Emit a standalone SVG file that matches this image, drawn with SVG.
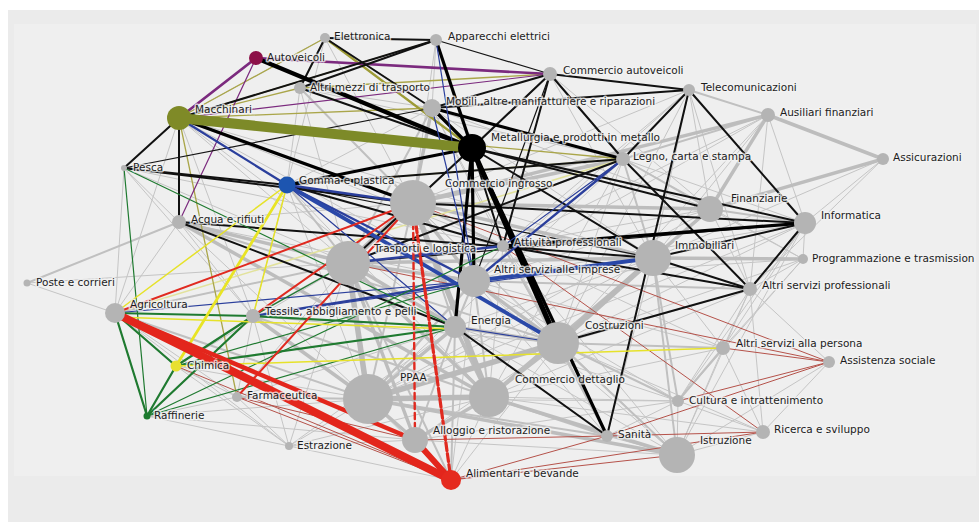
<svg xmlns="http://www.w3.org/2000/svg" width="979" height="522" viewBox="0 0 979 522">
<style>
.e path{fill:none;stroke-linecap:round}
.g1{stroke:#c5c5c5;stroke-width:1}
.g2{stroke:#c0c0c0;stroke-width:2}
.g3{stroke:#bdbdbd;stroke-width:3.5}
.g5{stroke:#bababa;stroke-width:5.5}
.k1{stroke:#151515;stroke-width:1.2}
.k2{stroke:#111;stroke-width:2}
.k3{stroke:#000;stroke-width:3.2}
.k4{stroke:#000;stroke-width:4.2}
.k5{stroke:#000;stroke-width:5.2}
.b1{stroke:#2b3f9c;stroke-width:1.2}
.b2{stroke:#2b3f9c;stroke-width:2.3}
.b3{stroke:#2a48a8;stroke-width:3.8}
.v1{stroke:#7b2a7e;stroke-width:1.2}
.v2{stroke:#7b2a7e;stroke-width:2.6}
.o1{stroke:#aaa64a;stroke-width:1.3}
.o2{stroke:#9d9b35;stroke-width:2.2}
.o10{stroke:#7d8a28;stroke-width:10}
.y1{stroke:#e6e22a;stroke-width:1.5}
.y2{stroke:#e8e425;stroke-width:2.8}
.yp{stroke:#e2e29c;stroke-width:1.6}
.n1{stroke:#1f7a30;stroke-width:1.2}
.n2{stroke:#1f7a30;stroke-width:2.2}
.r1{stroke:#b5524a;stroke-width:1}
.r2{stroke:#e02a20;stroke-width:2}
.r4{stroke:#e3261c;stroke-width:4.5}
.r6{stroke:#e3261c;stroke-width:6}
.r8{stroke:#e3261c;stroke-width:8}
.rd{stroke:#e02a20;stroke-width:3.2;stroke-dasharray:8 3}
.rd2{stroke:#e02a20;stroke-width:2.4;stroke-dasharray:6 4}
.nd{fill:#b4b4b4}
.lb{font-family:"DejaVu Sans",Verdana,sans-serif;font-size:10.5px;fill:#1c1c1c;stroke:#f3f3f3;stroke-width:3;stroke-opacity:.75;paint-order:stroke;stroke-linejoin:round}
</style>
<rect width="979" height="522" fill="#fff"/>
<rect x="8" y="10" width="971" height="512" fill="#ebebeb"/>
<rect x="14" y="24" width="962" height="452" fill="#efefef"/>
<g id="connectors" class="e">
<path class="g1" d="M325 38 179 118"/><path class="g1" d="M325 38 287 185"/><path class="g1" d="M325 38 413 203"/>
<path class="g1" d="M436 40 432 108"/><path class="g1" d="M436 40 413 203"/><path class="g1" d="M300 88 432 108"/>
<path class="g1" d="M300 88 287 185"/><path class="g1" d="M300 88 348 263"/><path class="g1" d="M300 88 623 159"/>
<path class="g1" d="M550 74 348 263"/><path class="g1" d="M550 74 710 209"/><path class="g1" d="M550 74 653 258"/>
<path class="g1" d="M689 90 710 209"/><path class="g1" d="M689 90 653 258"/><path class="g1" d="M689 90 413 203"/>
<path class="g1" d="M689 90 503 246"/><path class="g1" d="M689 90 474 281"/><path class="g1" d="M689 90 750 289"/>
<path class="g1" d="M689 90 558 343"/><path class="g1" d="M432 108 287 185"/><path class="g1" d="M432 108 503 246"/>
<path class="g1" d="M432 108 653 258"/><path class="g1" d="M432 108 558 343"/><path class="g1" d="M432 108 710 209"/>
<path class="g1" d="M179 118 115 313"/><path class="g1" d="M179 118 348 263"/><path class="g1" d="M179 118 253 316"/>
<path class="g1" d="M179 118 455 327"/><path class="g1" d="M179 118 503 246"/><path class="g1" d="M179 118 474 281"/>
<path class="g1" d="M179 118 653 258"/><path class="g1" d="M768 115 653 258"/><path class="g1" d="M768 115 750 289"/>
<path class="g1" d="M768 115 503 246"/><path class="g1" d="M768 115 558 343"/><path class="g1" d="M768 115 805 223"/>
<path class="g1" d="M768 115 474 281"/><path class="g1" d="M883 159 653 258"/><path class="g1" d="M883 159 805 223"/>
<path class="g1" d="M883 159 750 289"/><path class="g1" d="M623 159 805 223"/><path class="g1" d="M623 159 489 397"/>
<path class="g1" d="M623 159 368 399"/><path class="g1" d="M623 159 503 246"/><path class="g1" d="M623 159 558 343"/>
<path class="g1" d="M623 159 803 259"/><path class="g1" d="M124 168 115 313"/><path class="g1" d="M124 168 179 222"/>
<path class="g1" d="M124 168 348 263"/><path class="g1" d="M124 168 253 316"/><path class="g1" d="M124 168 503 246"/>
<path class="g1" d="M287 185 253 316"/><path class="g1" d="M287 185 455 327"/><path class="g1" d="M287 185 489 397"/>
<path class="g1" d="M287 185 368 399"/><path class="g1" d="M413 203 179 222"/><path class="g1" d="M413 203 558 343"/>
<path class="g1" d="M413 203 723 348"/><path class="g1" d="M413 203 677 455"/><path class="g1" d="M710 209 503 246"/>
<path class="g1" d="M710 209 474 281"/><path class="g1" d="M710 209 750 289"/><path class="g1" d="M710 209 489 397"/>
<path class="g1" d="M710 209 368 399"/><path class="g1" d="M710 209 803 259"/><path class="g1" d="M805 223 803 259"/>
<path class="g1" d="M805 223 474 281"/><path class="g1" d="M805 223 558 343"/><path class="g1" d="M805 223 368 399"/>
<path class="g1" d="M805 223 678 401"/><path class="g1" d="M805 223 723 348"/><path class="g1" d="M805 223 677 455"/>
<path class="g1" d="M179 222 253 316"/><path class="g1" d="M179 222 115 313"/><path class="g1" d="M179 222 368 399"/>
<path class="g1" d="M179 222 474 281"/><path class="g1" d="M179 222 503 246"/><path class="g1" d="M503 246 474 281"/>
<path class="g1" d="M503 246 368 399"/><path class="g1" d="M503 246 489 397"/><path class="g1" d="M503 246 677 455"/>
<path class="g1" d="M503 246 607 436"/><path class="g1" d="M503 246 653 258"/><path class="g1" d="M653 258 368 399"/>
<path class="g1" d="M653 258 723 348"/><path class="g1" d="M653 258 607 436"/><path class="g1" d="M653 258 455 327"/>
<path class="g1" d="M348 263 289 446"/><path class="g1" d="M348 263 237 397"/><path class="g1" d="M348 263 176 366"/>
<path class="g1" d="M348 263 27 283"/><path class="g1" d="M803 259 750 289"/><path class="g1" d="M803 259 678 401"/>
<path class="g1" d="M803 259 474 281"/><path class="g1" d="M803 259 723 348"/><path class="g1" d="M803 259 558 343"/>
<path class="g1" d="M474 281 723 348"/><path class="g1" d="M474 281 678 401"/><path class="g1" d="M474 281 607 436"/>
<path class="g1" d="M474 281 677 455"/><path class="g1" d="M474 281 451 480"/><path class="g1" d="M750 289 723 348"/>
<path class="g1" d="M750 289 678 401"/><path class="g1" d="M750 289 829 362"/><path class="g1" d="M750 289 763 432"/>
<path class="g1" d="M750 289 677 455"/><path class="g1" d="M750 289 489 397"/><path class="g1" d="M750 289 368 399"/>
<path class="g1" d="M115 313 289 446"/><path class="g1" d="M115 313 237 397"/><path class="g1" d="M115 313 27 283"/>
<path class="g1" d="M253 316 237 397"/><path class="g1" d="M253 316 289 446"/><path class="g1" d="M253 316 558 343"/>
<path class="g1" d="M455 327 289 446"/><path class="g1" d="M455 327 677 455"/><path class="g1" d="M455 327 678 401"/>
<path class="g1" d="M455 327 237 397"/><path class="g1" d="M558 343 451 480"/><path class="g1" d="M558 343 415 440"/>
<path class="g1" d="M558 343 763 432"/><path class="g1" d="M723 348 763 432"/><path class="g1" d="M723 348 677 455"/>
<path class="g1" d="M723 348 489 397"/><path class="g1" d="M829 362 677 455"/><path class="g1" d="M829 362 763 432"/>
<path class="g1" d="M176 366 237 397"/><path class="g1" d="M176 366 289 446"/><path class="g1" d="M176 366 368 399"/>
<path class="g1" d="M368 399 289 446"/><path class="g1" d="M368 399 451 480"/><path class="g1" d="M368 399 678 401"/>
<path class="g1" d="M489 397 451 480"/><path class="g1" d="M489 397 678 401"/><path class="g1" d="M489 397 763 432"/>
<path class="g1" d="M237 397 289 446"/><path class="g1" d="M237 397 147 416"/><path class="g1" d="M678 401 763 432"/>
<path class="g1" d="M678 401 677 455"/><path class="g1" d="M678 401 607 436"/><path class="g1" d="M147 416 289 446"/>
<path class="g1" d="M147 416 415 440"/><path class="g1" d="M147 416 368 399"/><path class="g1" d="M415 440 677 455"/>
<path class="g1" d="M763 432 677 455"/><path class="g1" d="M607 436 677 455"/><path class="g1" d="M289 446 451 480"/>
<path class="g1" d="M289 446 415 440"/><path class="g1" d="M289 446 489 397"/><path class="g1" d="M415 440 678 401"/>
<path class="g2" d="M768 115 623 159"/><path class="g2" d="M689 90 768 115"/><path class="g2" d="M27 283 179 222"/>
<path class="g2" d="M115 313 348 263"/><path class="g2" d="M413 203 455 327"/><path class="g2" d="M805 223 710 209"/>
<path class="g2" d="M710 209 623 159"/><path class="g2" d="M723 348 558 343"/><path class="g2" d="M678 401 558 343"/>
<path class="g2" d="M678 401 653 258"/><path class="g2" d="M677 455 558 343"/><path class="g2" d="M607 436 558 343"/>
<path class="g2" d="M607 436 368 399"/><path class="g2" d="M415 440 455 327"/><path class="g2" d="M455 327 451 480"/>
<path class="g2" d="M253 316 348 263"/><path class="g2" d="M253 316 489 397"/><path class="g2" d="M287 185 348 263"/>
<path class="g2" d="M413 203 368 399"/><path class="g2" d="M503 246 413 203"/><path class="g2" d="M503 246 558 343"/>
<path class="g2" d="M474 281 489 397"/><path class="g2" d="M474 281 368 399"/><path class="g2" d="M710 209 558 343"/>
<path class="g2" d="M474 281 455 327"/><path class="g2" d="M678 401 723 348"/><path class="g2" d="M489 397 607 436"/>
<path class="g2" d="M348 263 451 480"/><path class="g2" d="M653 258 677 455"/><path class="g2" d="M474 281 750 289"/>
<path class="g2" d="M432 108 348 263"/><path class="g2" d="M623 159 653 258"/><path class="g2" d="M623 159 348 263"/>
<path class="g2" d="M550 74 413 203"/><path class="g2" d="M300 88 413 203"/><path class="g2" d="M237 397 368 399"/>
<path class="g2" d="M115 313 368 399"/><path class="g2" d="M179 222 558 343"/>
<path class="g3" d="M413 203 653 258"/><path class="g3" d="M348 263 455 327"/><path class="g3" d="M368 399 455 327"/>
<path class="g3" d="M368 399 415 440"/><path class="g3" d="M558 343 455 327"/><path class="g3" d="M558 343 489 397"/>
<path class="g3" d="M653 258 710 209"/><path class="g3" d="M179 222 489 397"/><path class="g3" d="M768 115 883 159"/>
<path class="g3" d="M768 115 710 209"/><path class="g3" d="M768 115 413 203"/><path class="g3" d="M883 159 710 209"/>
<path class="g3" d="M413 203 474 281"/><path class="g3" d="M348 263 474 281"/><path class="g3" d="M489 397 415 440"/>
<path class="g3" d="M677 455 368 399"/><path class="g3" d="M348 263 489 397"/><path class="g3" d="M474 281 558 343"/>
<path class="g3" d="M653 258 474 281"/><path class="g3" d="M432 108 413 203"/><path class="g3" d="M623 159 413 203"/>
<path class="g3" d="M803 259 653 258"/><path class="g3" d="M253 316 368 399"/><path class="g3" d="M653 258 348 263"/>
<path class="g3" d="M677 455 489 397"/><path class="g3" d="M179 222 348 263"/><path class="g3" d="M710 209 413 203"/>
<path class="g3" d="M489 397 653 258"/><path class="g3" d="M348 263 415 440"/><path class="g3" d="M455 327 489 397"/>
<path class="g5" d="M413 203 348 263"/><path class="g5" d="M348 263 368 399"/><path class="g5" d="M368 399 489 397"/>
<path class="g5" d="M413 203 489 397"/><path class="g5" d="M653 258 558 343"/><path class="g5" d="M368 399 558 343"/>
<path class="r1" d="M176 366 451 480"/><path class="r1" d="M237 397 451 480"/><path class="r1" d="M237 397 415 440"/>
<path class="r1" d="M607 436 829 362"/><path class="r1" d="M607 436 763 432"/><path class="r1" d="M607 436 415 440"/>
<path class="r1" d="M451 480 607 436"/><path class="r1" d="M451 480 677 455"/><path class="r1" d="M503 246 763 432"/>
<path class="r1" d="M413 203 829 362"/><path class="r1" d="M723 348 829 362"/><path class="r1" d="M678 401 829 362"/>
<path class="r1" d="M348 263 829 362"/><path class="r1" d="M451 480 763 432"/>
<path class="yp" d="M115 313 623 159"/><path class="yp" d="M287 185 623 159"/>
<path class="o1" d="M179 118 436 40"/><path class="o1" d="M300 88 550 74"/><path class="o1" d="M179 118 432 108"/>
<path class="o1" d="M179 118 623 159"/><path class="o1" d="M179 118 300 88"/><path class="o1" d="M179 118 325 38"/>
<path class="o1" d="M179 118 237 397"/><path class="o2" d="M325 38 472 148"/>
<path class="v1" d="M179 118 550 74"/><path class="v1" d="M256 58 179 222"/>
<path class="v2" d="M256 58 550 74"/><path class="v2" d="M256 58 179 118"/>
<path class="k1" d="M287 185 653 258"/><path class="k1" d="M348 263 805 223"/><path class="k1" d="M124 168 432 108"/>
<path class="k1" d="M436 40 550 74"/><path class="k1" d="M550 74 474 281"/>
<path class="k2" d="M436 40 325 38"/><path class="k2" d="M325 38 300 88"/><path class="k2" d="M436 40 300 88"/>
<path class="k2" d="M436 40 179 118"/><path class="k2" d="M550 74 472 148"/><path class="k2" d="M550 74 623 159"/>
<path class="k2" d="M550 74 689 90"/><path class="k2" d="M550 74 432 108"/><path class="k2" d="M689 90 432 108"/>
<path class="k2" d="M689 90 623 159"/><path class="k2" d="M689 90 805 223"/><path class="k2" d="M689 90 607 436"/>
<path class="k2" d="M623 159 750 289"/><path class="k2" d="M805 223 653 258"/><path class="k2" d="M805 223 750 289"/>
<path class="k2" d="M750 289 653 258"/><path class="k2" d="M750 289 558 343"/><path class="k2" d="M750 289 503 246"/>
<path class="k2" d="M179 222 455 327"/><path class="k2" d="M179 222 653 258"/><path class="k2" d="M124 168 413 203"/>
<path class="k2" d="M124 168 287 185"/><path class="k2" d="M179 118 124 168"/><path class="k2" d="M179 118 179 222"/>
<path class="k2" d="M455 327 607 436"/><path class="k2" d="M472 148 653 258"/><path class="k2" d="M472 148 348 263"/>
<path class="k2" d="M472 148 503 246"/><path class="k2" d="M300 88 472 148"/><path class="k2" d="M325 38 432 108"/>
<path class="k2" d="M623 159 287 185"/><path class="k2" d="M623 159 348 263"/><path class="k2" d="M472 148 710 209"/>
<path class="k2" d="M472 148 805 223"/><path class="k2" d="M550 74 503 246"/><path class="k2" d="M413 203 805 223"/>
<path class="k2" d="M287 185 503 246"/>
<path class="k3" d="M436 40 472 148"/><path class="k3" d="M472 148 474 281"/><path class="k3" d="M287 185 472 148"/>
<path class="k3" d="M179 118 413 203"/><path class="k3" d="M432 108 623 159"/><path class="k3" d="M432 108 472 148"/>
<path class="k3" d="M472 148 607 436"/><path class="k3" d="M503 246 805 223"/><path class="k3" d="M472 148 455 327"/>
<path class="k4" d="M256 58 472 148"/><path class="k5" d="M472 148 558 343"/>
<path class="b1" d="M432 108 474 281"/><path class="b1" d="M436 40 474 281"/><path class="b1" d="M503 246 623 159"/>
<path class="b1" d="M253 316 653 258"/><path class="b1" d="M115 313 474 281"/><path class="b1" d="M287 185 455 327"/>
<path class="b1" d="M455 327 558 343"/>
<path class="b2" d="M179 118 287 185"/><path class="b2" d="M287 185 413 203"/><path class="b2" d="M287 185 474 281"/>
<path class="b2" d="M474 281 623 159"/><path class="b2" d="M348 263 503 246"/><path class="b2" d="M253 316 474 281"/>
<path class="b3" d="M474 281 653 258"/><path class="b3" d="M287 185 558 343"/>
<path class="n1" d="M147 416 124 168"/><path class="n1" d="M147 416 455 327"/><path class="n1" d="M176 366 474 281"/>
<path class="n1" d="M253 316 348 263"/><path class="n1" d="M147 416 503 246"/><path class="n1" d="M124 168 455 327"/>
<path class="n2" d="M147 416 115 313"/><path class="n2" d="M147 416 176 366"/><path class="n2" d="M147 416 253 316"/>
<path class="n2" d="M115 313 176 366"/><path class="n2" d="M115 313 253 316"/><path class="n2" d="M176 366 253 316"/>
<path class="n2" d="M176 366 455 327"/><path class="n2" d="M253 316 455 327"/>
<path class="y1" d="M115 313 287 185"/><path class="y1" d="M115 317 455 329"/><path class="y1" d="M176 366 723 348"/>
<path class="y1" d="M253 316 287 185"/><path class="y2" d="M176 366 287 185"/>
<path class="r2" d="M115 313 413 203"/><path class="r2" d="M253 316 413 203"/><path class="r2" d="M237 397 413 203"/>
<path class="rd2" d="M413 203 415 440"/><path class="rd" d="M413 203 451 480"/>
<path class="r4" d="M115 313 415 440"/><path class="r6" d="M415 440 451 480"/><path class="r8" d="M115 313 451 480"/>
<path class="o10" d="M179 118 472 148"/>
</g>
<g id="n-elettronica"><circle class="nd" cx="325" cy="38" r="5"/><text class="lb" x="334" y="40">Elettronica</text></g>
<g id="n-apparecchi"><circle class="nd" cx="436" cy="40" r="6"/><text class="lb" x="448" y="40">Apparecchi elettrici</text></g>
<g id="n-autoveicoli"><circle cx="256" cy="58" r="7" fill="#8c1048"/><text class="lb" x="267" y="61">Autoveicoli</text></g>
<g id="n-commercio-autoveicoli"><circle class="nd" cx="550" cy="74" r="7"/><text class="lb" x="563" y="74">Commercio autoveicoli</text></g>
<g id="n-altri-mezzi"><circle class="nd" cx="300" cy="88" r="6"/><text class="lb" x="310" y="91">Altri mezzi di trasporto</text></g>
<g id="n-telecomunicazioni"><circle class="nd" cx="689" cy="90" r="6"/><text class="lb" x="701" y="91">Telecomunicazioni</text></g>
<g id="n-mobili"><circle class="nd" cx="432" cy="108" r="9"/><text class="lb" x="446" y="105">Mobili, altre manifatturiere e riparazioni</text></g>
<g id="n-macchinari"><circle cx="179" cy="118" r="12" fill="#7f8a27"/><text class="lb" x="195" y="113">Macchinari</text></g>
<g id="n-ausiliari"><circle class="nd" cx="768" cy="115" r="7"/><text class="lb" x="780" y="116">Ausiliari finanziari</text></g>
<g id="n-metallurgia"><circle cx="472" cy="148" r="14" fill="#000"/><text class="lb" x="491" y="141">Metallurgia e prodotti in metallo</text></g>
<g id="n-legno"><circle class="nd" cx="623" cy="159" r="7"/><text class="lb" x="633" y="160">Legno, carta e stampa</text></g>
<g id="n-assicurazioni"><circle class="nd" cx="883" cy="159" r="6"/><text class="lb" x="893" y="161">Assicurazioni</text></g>
<g id="n-pesca"><circle class="nd" cx="124" cy="168" r="3"/><text class="lb" x="133" y="171">Pesca</text></g>
<g id="n-gomma"><circle cx="287" cy="185" r="8.5" fill="#1d55b0"/><text class="lb" x="299" y="184">Gomma e plastica</text></g>
<g id="n-commercio-ingrosso"><circle class="nd" cx="413" cy="203" r="23"/><text class="lb" x="445" y="187">Commercio ingrosso</text></g>
<g id="n-finanziarie"><circle class="nd" cx="710" cy="209" r="13"/><text class="lb" x="731" y="202">Finanziarie</text></g>
<g id="n-informatica"><circle class="nd" cx="805" cy="223" r="11"/><text class="lb" x="821" y="219">Informatica</text></g>
<g id="n-acqua"><circle class="nd" cx="179" cy="222" r="7"/><text class="lb" x="191" y="223">Acqua e rifiuti</text></g>
<g id="n-attivita"><circle class="nd" cx="503" cy="246" r="6"/><text class="lb" x="514" y="246">Attività professionali</text></g>
<g id="n-immobiliari"><circle class="nd" cx="653" cy="258" r="18"/><text class="lb" x="675" y="249">Immobiliari</text></g>
<g id="n-trasporti"><circle class="nd" cx="348" cy="263" r="22"/><text class="lb" x="374" y="252">Trasporti e logistica</text></g>
<g id="n-programmazione"><circle class="nd" cx="803" cy="259" r="5"/><text class="lb" x="812" y="262">Programmazione e trasmission</text></g>
<g id="n-altri-imprese"><circle class="nd" cx="474" cy="281" r="16"/><text class="lb" x="494" y="273">Altri servizi alle imprese</text></g>
<g id="n-poste"><circle class="nd" cx="27" cy="283" r="3.5"/><text class="lb" x="36" y="286">Poste e corrieri</text></g>
<g id="n-altri-professionali"><circle class="nd" cx="750" cy="289" r="7"/><text class="lb" x="762" y="289">Altri servizi professionali</text></g>
<g id="n-agricoltura"><circle class="nd" cx="115" cy="313" r="10"/><text class="lb" x="130" y="308">Agricoltura</text></g>
<g id="n-tessile"><circle class="nd" cx="253" cy="316" r="7"/><text class="lb" x="265" y="315">Tessile, abbigliamento e pelli</text></g>
<g id="n-energia"><circle class="nd" cx="455" cy="327" r="11"/><text class="lb" x="471" y="324">Energia</text></g>
<g id="n-costruzioni"><circle class="nd" cx="558" cy="343" r="21"/><text class="lb" x="585" y="329">Costruzioni</text></g>
<g id="n-altri-persona"><circle class="nd" cx="723" cy="348" r="7"/><text class="lb" x="736" y="347">Altri servizi alla persona</text></g>
<g id="n-assistenza"><circle class="nd" cx="829" cy="362" r="6"/><text class="lb" x="840" y="364">Assistenza sociale</text></g>
<g id="n-chimica"><circle cx="176" cy="366" r="5.5" fill="#e8e030"/><text class="lb" x="187" y="369">Chimica</text></g>
<g id="n-ppaa"><circle class="nd" cx="368" cy="399" r="25"/><text class="lb" x="400" y="381">PPAA</text></g>
<g id="n-commercio-dettaglio"><circle class="nd" cx="489" cy="397" r="20"/><text class="lb" x="515" y="383">Commercio dettaglio</text></g>
<g id="n-farmaceutica"><circle class="nd" cx="237" cy="397" r="5"/><text class="lb" x="247" y="399">Farmaceutica</text></g>
<g id="n-cultura"><circle class="nd" cx="678" cy="401" r="6"/><text class="lb" x="689" y="404">Cultura e intrattenimento</text></g>
<g id="n-raffinerie"><circle cx="147" cy="416" r="3.5" fill="#1c7a2e"/><text class="lb" x="154" y="419">Raffinerie</text></g>
<g id="n-alloggio"><circle class="nd" cx="415" cy="440" r="13"/><text class="lb" x="433" y="434">Alloggio e ristorazione</text></g>
<g id="n-ricerca"><circle class="nd" cx="763" cy="432" r="7"/><text class="lb" x="774" y="433">Ricerca e sviluppo</text></g>
<g id="n-sanita"><circle class="nd" cx="607" cy="436" r="6"/><text class="lb" x="618" y="438">Sanità</text></g>
<g id="n-istruzione"><circle class="nd" cx="677" cy="455" r="18"/><text class="lb" x="700" y="444">Istruzione</text></g>
<g id="n-estrazione"><circle class="nd" cx="289" cy="446" r="4"/><text class="lb" x="297" y="449">Estrazione</text></g>
<g id="n-alimentari"><circle cx="451" cy="480" r="10" fill="#e52a1e"/><text class="lb" x="466" y="477">Alimentari e bevande</text></g>
</svg>
